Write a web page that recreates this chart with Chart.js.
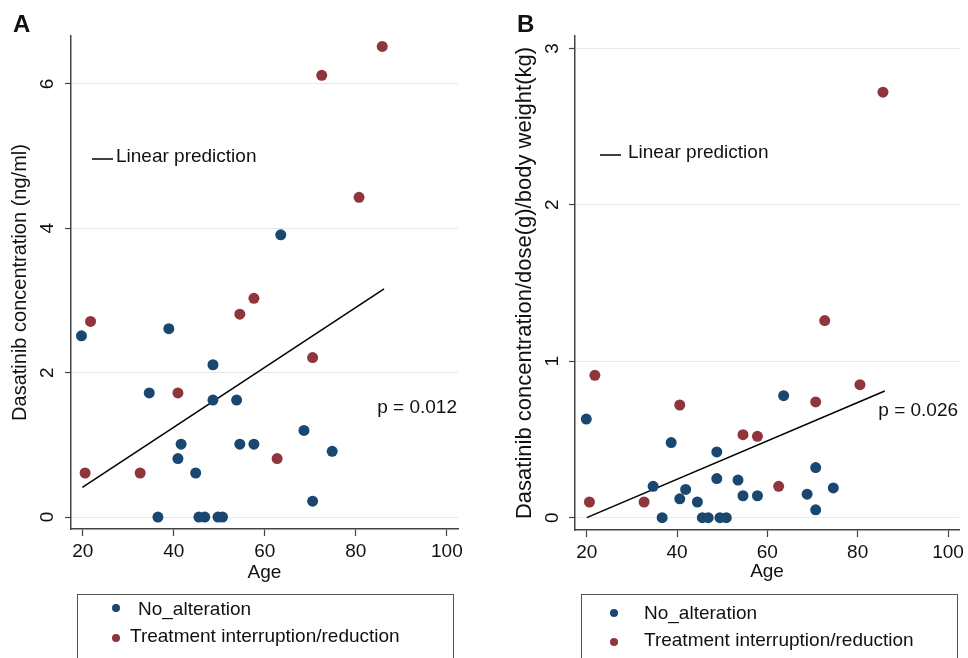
<!DOCTYPE html>
<html>
<head>
<meta charset="utf-8">
<script src="https://cdn.jsdelivr.net/npm/chart.js@4.4.1/dist/chart.umd.min.js"></script>
<style>
  html, body { margin: 0; padding: 0; background: #fff; }
  #wrap { position: relative; width: 968px; height: 658px; }
  canvas { position: absolute; top: 0; }
  #panelA { left: 0; }
  #panelB { left: 484px; }
</style>
</head>
<body>
<div id="wrap">
  <canvas id="panelA" width="484" height="658"></canvas>
  <canvas id="panelB" width="484" height="658"></canvas>
</div>
<script>
// values
const groupLabels = ["No_alteration", "Treatment interruption/reduction"];
const fitLabel = "Linear prediction";
const ageTicks = [20, 40, 60, 80, 100];

// panel A - concentration (ng/ml)
const ageNoAltA  = [19.7, 38.9, 48.6, 34.6, 48.6, 53.8, 68.6, 41.6, 54.5, 57.6, 74.8, 40.9, 44.8, 70.5, 36.5, 45.5, 46.8, 49.7, 50.7, 63.5];
const concNoAltA = [2.51, 2.61, 2.11, 1.72, 1.62, 1.62, 1.20, 1.01, 1.01, 1.01, 0.91, 0.81, 0.61, 0.22, 0, 0, 0, 0, 0, 3.91];
const ageTrtA    = [21.7, 20.5, 32.6, 40.9, 54.5, 57.6, 70.5, 62.7, 72.5, 85.8, 80.7];
const concTrtA   = [2.71, 0.61, 0.61, 1.72, 2.81, 3.03, 2.21, 0.81, 6.12, 6.52, 4.43];
const fitAgeA    = [19.9, 86.2];
const fitConcA   = [0.41, 3.16];
const yTicksA    = [0, 2, 4, 6];
const pTextA     = "p = 0.012";

// panel B - concentration/dose(g)/body weight(kg)
const ageNoAltB  = [19.9, 38.7, 48.8, 34.7, 48.8, 53.5, 68.8, 41.9, 54.6, 57.8, 74.6, 40.6, 44.5, 70.7, 70.7, 63.6, 36.7, 45.6, 46.9, 49.5, 50.9];
const concNoAltB = [0.63, 0.48, 0.42, 0.20, 0.25, 0.24, 0.15, 0.18, 0.14, 0.14, 0.19, 0.12, 0.10, 0.05, 0.32, 0.78, 0, 0, 0, 0, 0];
const ageTrtB    = [21.8, 20.6, 32.7, 40.6, 54.6, 57.8, 70.7, 62.5, 72.7, 80.5, 85.6];
const concTrtB   = [0.91, 0.10, 0.10, 0.72, 0.53, 0.52, 0.74, 0.20, 1.26, 0.85, 2.72];
const fitAgeB    = [20.0, 86.0];
const fitConcB   = [0.0, 0.81];
const yTicksB    = [0, 1, 2, 3];
const pTextB     = "p = 0.026";

const FONT = "'Liberation Sans', Arial, Helvetica, sans-serif";
const navy = "#1a476f";
const maroon = "#90353b";
const axisCol = "#444";
const gridCol = "#e1eaf0";

function pairs(xs, ys) {
    return xs.map((x, i) => ({ x: x, y: ys[i] }));
}

function buildPanel(id, p) {
    // letter, key, p-value and bottom legend box
    const decor = {
        id: "decor",
        afterDraw(chart) {
            const ctx = chart.ctx;
            const ca = chart.chartArea;
            const ds = chart.data.datasets;
            ctx.save();
            ctx.fillStyle = "#111";
            ctx.font = "bold 24px " + FONT;
            ctx.textBaseline = "top";
            ctx.fillText(p.letter, p.letterX, 13);

            // linear prediction key
            ctx.strokeStyle = ds[2].borderColor;
            ctx.lineWidth = 1.5;
            ctx.beginPath();
            ctx.moveTo(ca.left + p.keyX, p.keyY);
            ctx.lineTo(ca.left + p.keyX + 21, p.keyY);
            ctx.stroke();
            ctx.font = "19px " + FONT;
            ctx.textBaseline = "middle";
            ctx.fillText(ds[2].label, ca.left + p.keyX + p.keyGap, p.keyY - 2);

            ctx.textAlign = "right";
            ctx.fillText(p.pText, ca.right - 1, p.pY);

            // legend box
            ctx.textAlign = "left";
            ctx.strokeStyle = "#555";
            ctx.lineWidth = 1;
            ctx.strokeRect(p.boxL + 0.5, 594.5, 376, 120);
            for (let i = 0; i < 2; i++) {
                ctx.fillStyle = ds[i].backgroundColor;
                ctx.beginPath();
                ctx.arc(p.markX, p.rowY[i], 4, 0, Math.PI * 2);
                ctx.fill();
                ctx.fillStyle = "#111";
                ctx.fillText(ds[i].label, p.textX[i], p.textY[i]);
            }
            ctx.restore();
        }
    };

    return new Chart(document.getElementById(id), {
        type: "scatter",
        data: {
            datasets: [
                { label: groupLabels[0], data: pairs(p.ageNoAlt, p.yNoAlt), backgroundColor: navy, borderColor: navy, borderWidth: 0, pointRadius: 5.5 },
                { label: groupLabels[1], data: pairs(p.ageTrt, p.yTrt), backgroundColor: maroon, borderColor: maroon, borderWidth: 0, pointRadius: 5.5 },
                { label: fitLabel, type: "line", data: pairs(p.fitAge, p.fitY), borderColor: "#000", borderWidth: 1.5, pointRadius: 0, fill: false }
            ]
        },
        options: {
            responsive: false,
            animation: false,
            events: [],
            layout: { autoPadding: false, padding: { top: 36, right: p.rightPad, left: 0, bottom: 0 } },
            plugins: { legend: { display: false }, tooltip: { enabled: false } },
            scales: {
                x: {
                    type: "linear",
                    min: 17.4,
                    max: 102.45,
                    afterBuildTicks: s => { s.ticks = ageTicks.map(v => ({ value: v })); },
                    afterFit: s => { s.height = p.xAxisHeight; },
                    grid: { drawOnChartArea: false, drawTicks: true, tickLength: 7, tickColor: axisCol, tickWidth: 1.2 },
                    border: { color: axisCol, width: 1.5 },
                    ticks: { font: { family: FONT, size: 19 }, color: "#111", padding: 4, maxRotation: 0 },
                    title: { display: true, text: "Age", font: { family: FONT, size: 19 }, color: "#111", padding: { top: 0, bottom: p.xTitlePad } }
                },
                y: {
                    type: "linear",
                    min: p.yMin,
                    max: p.yMax,
                    afterBuildTicks: s => { s.ticks = p.yTicks.map(v => ({ value: v })); },
                    afterFit: s => { s.width = p.yAxisWidth; },
                    grid: { color: gridCol, lineWidth: 1, tickColor: axisCol, tickLength: 6, tickWidth: 1.2 },
                    border: { color: axisCol, width: 1.5 },
                    ticks: { font: { family: FONT, size: 19 }, color: "#111", padding: p.yTickPad, minRotation: 90, maxRotation: 90, crossAlign: "center" },
                    title: { display: true, text: p.yTitle, font: { family: FONT, size: p.yTitleSize }, color: "#111", padding: { top: p.yTitlePad, bottom: 0 } }
                }
            }
        },
        plugins: [decor]
    });
}

buildPanel("panelA", {
    letter: "A", letterX: 13,
    ageNoAlt: ageNoAltA, yNoAlt: concNoAltA, ageTrt: ageTrtA, yTrt: concTrtA,
    fitAge: fitAgeA, fitY: fitConcA, yTicks: yTicksA, pText: pTextA,
    yMin: -0.166, yMax: 6.665,
    yTitle: "Dasatinib concentration (ng/ml)", yTitleSize: 20, yTitlePad: 8,
    yAxisWidth: 71, yTickPad: 12, rightPad: 26, xAxisHeight: 129, xTitlePad: 74,
    keyX: 21, keyY: 159, keyGap: 24, pY: 408,
    boxL: 77, markX: 116, rowY: [608, 638], textX: [138, 130], textY: [610, 637]
});

buildPanel("panelB", {
    letter: "B", letterX: 33,
    ageNoAlt: ageNoAltB, yNoAlt: concNoAltB, ageTrt: ageTrtB, yTrt: concTrtB,
    fitAge: fitAgeB, fitY: fitConcB, yTicks: yTicksB, pText: pTextB,
    yMin: -0.079, yMax: 3.079,
    yTitle: "Dasatinib concentration/dose(g)/body weight(kg)", yTitleSize: 22, yTitlePad: 28,
    yAxisWidth: 91, yTickPad: 11, rightPad: 5, xAxisHeight: 128, xTitlePad: 75,
    keyX: 25, keyY: 155, keyGap: 28, pY: 411,
    boxL: 97, markX: 130, rowY: [613, 642], textX: [160, 160], textY: [614, 641]
});
</script>
</body>
</html>
